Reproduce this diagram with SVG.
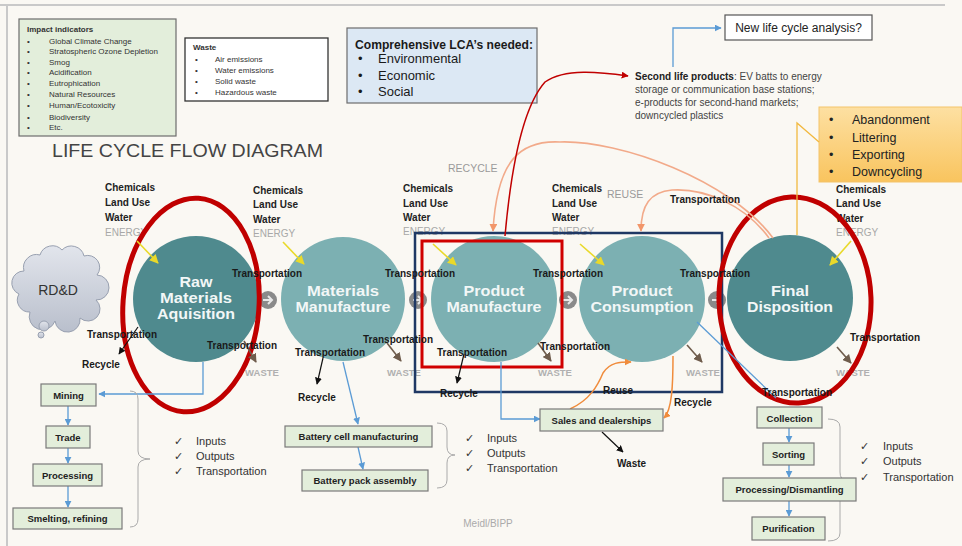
<svg xmlns="http://www.w3.org/2000/svg" width="962" height="546" viewBox="0 0 962 546">
<defs>
<style>
text{font-family:'Liberation Sans',Arial,sans-serif;}
.b{font-weight:bold;}
.t{font-size:10px;font-weight:bold;fill:#1a1a1a;}
.in{font-size:10px;font-weight:bold;fill:#222;}
.en{font-size:10px;fill:#a8a8a8;}
.ws{font-size:9.5px;font-weight:bold;fill:#b0b0b0;}
.ct{font-size:14px;font-weight:bold;fill:#f2f7f7;text-anchor:middle;}
.dk{fill:#4f8a8e;}
.lt{fill:#7cb0b2;}
.gb{fill:#e3eedb;stroke:#7a7a7a;stroke-width:1.2;}
.gt{font-size:9.5px;font-weight:bold;fill:#222;text-anchor:middle;}
.ck{font-size:11px;fill:#333;}
.sm{font-size:8px;fill:#333;}
.blue{fill:none;stroke:#5b9bd5;stroke-width:1.3;}
.blk{fill:none;stroke:#111;stroke-width:1.2;}
.brn{fill:none;stroke:#6f5c4c;stroke-width:1.6;}
.yel{fill:none;stroke:#e9d92a;stroke-width:1.6;}
.sal{fill:none;stroke:#f2aa8a;stroke-width:1.6;}
.org{fill:none;stroke:#f08c3c;stroke-width:1.5;}
.brk{fill:none;stroke:#aaaaaa;stroke-width:1;}
.gc{fill:#8a8a8a;}
</style>
<marker id="mBlue" viewBox="0 0 10 10" refX="9" refY="5" markerWidth="7" markerHeight="7" orient="auto" markerUnits="userSpaceOnUse"><path d="M0,0 L10,5 L0,10 z" fill="#5b9bd5"/></marker>
<marker id="mBlk" viewBox="0 0 10 10" refX="9" refY="5" markerWidth="7" markerHeight="7" orient="auto" markerUnits="userSpaceOnUse"><path d="M0,0 L10,5 L0,10 z" fill="#111"/></marker>
<marker id="mBrn" viewBox="0 0 10 10" refX="9" refY="5" markerWidth="9" markerHeight="9" orient="auto" markerUnits="userSpaceOnUse"><path d="M0,0 L10,5 L0,10 z" fill="#6f5c4c"/></marker>
<marker id="mYel" viewBox="0 0 10 10" refX="9" refY="5" markerWidth="9" markerHeight="9" orient="auto" markerUnits="userSpaceOnUse"><path d="M0,0 L10,5 L0,10 z" fill="#e9d92a"/></marker>
<marker id="mSal" viewBox="0 0 10 10" refX="9" refY="5" markerWidth="8" markerHeight="8" orient="auto" markerUnits="userSpaceOnUse"><path d="M0,0 L10,5 L0,10 z" fill="#f2966a"/></marker>
<marker id="mOrg" viewBox="0 0 10 10" refX="9" refY="5" markerWidth="7" markerHeight="7" orient="auto" markerUnits="userSpaceOnUse"><path d="M0,0 L10,5 L0,10 z" fill="#f08c3c"/></marker>
<marker id="mRed" viewBox="0 0 10 10" refX="9" refY="5" markerWidth="7" markerHeight="7" orient="auto" markerUnits="userSpaceOnUse"><path d="M0,0 L10,5 L0,10 z" fill="#c00000"/></marker>
<linearGradient id="gOr" x1="0" y1="0" x2="0" y2="1"><stop offset="0" stop-color="#fde0a2"/><stop offset="1" stop-color="#f9c45e"/></linearGradient>
<linearGradient id="gCl" x1="0" y1="0" x2="0" y2="1"><stop offset="0" stop-color="#e2e5ec"/><stop offset="1" stop-color="#b9bfcc"/></linearGradient>
</defs>
<rect x="0" y="0" width="962" height="546" fill="#faf8f3"/>
<line x1="0" y1="5" x2="945" y2="5" stroke="#c9c9c9" stroke-width="2"/>
<line x1="7" y1="5" x2="7" y2="546" stroke="#c9c9c9" stroke-width="2"/>

<g id="impact-indicators">
<rect x="19" y="19" width="157" height="117" fill="#e3eedb" stroke="#6d6d6d" stroke-width="1.2"/>
<text x="27" y="32" class="sm b">Impact indicators</text>
<g class="sm">
<text x="27" y="44">•</text><text x="49" y="44">Global Climate Change</text>
<text x="27" y="54">•</text><text x="49" y="54">Stratospheric Ozone Depletion</text>
<text x="27" y="64.5">•</text><text x="49" y="64.5">Smog</text>
<text x="27" y="75">•</text><text x="49" y="75">Acidification</text>
<text x="27" y="85.5">•</text><text x="49" y="85.5">Eutrophication</text>
<text x="27" y="97">•</text><text x="49" y="97">Natural Resources</text>
<text x="27" y="108">•</text><text x="49" y="108">Human/Ecotoxicity</text>
<text x="27" y="119.5">•</text><text x="49" y="119.5">Biodiversity</text>
<text x="27" y="130">•</text><text x="49" y="130">Etc.</text>
</g>
</g>

<g id="waste-box">
<rect x="185" y="38" width="143" height="63" fill="#ffffff" stroke="#333" stroke-width="1.3"/>
<text x="193" y="50" class="sm b">Waste</text>
<g class="sm">
<text x="195" y="62">•</text><text x="215" y="62">Air emissions</text>
<text x="195" y="73">•</text><text x="215" y="73">Water emissions</text>
<text x="195" y="84">•</text><text x="215" y="84">Solid waste</text>
<text x="195" y="94.5">•</text><text x="215" y="94.5">Hazardous waste</text>
</g>
</g>

<text id="title" x="52" y="157" font-size="19" fill="#444" textLength="271" lengthAdjust="spacingAndGlyphs">LIFE CYCLE FLOW DIAGRAM</text>

<g id="lca-box">
<rect x="347" y="28" width="190" height="75" fill="#dce8f4" stroke="#6d6d6d" stroke-width="1.2"/>
<text x="355" y="49" font-size="12.5" font-weight="bold" fill="#1a1a1a" textLength="178" lengthAdjust="spacingAndGlyphs">Comprehensive LCA’s needed:</text>
<g font-size="13" fill="#1a1a1a">
<text x="358" y="63">•</text><text x="378" y="63">Environmental</text>
<text x="358" y="80">•</text><text x="378" y="80">Economic</text>
<text x="358" y="96">•</text><text x="378" y="96">Social</text>
</g>
</g>

<g id="new-lca">
<rect x="725" y="15" width="147" height="25" fill="#ffffff" stroke="#555" stroke-width="1.2"/>
<text x="798.5" y="32" font-size="12" fill="#222" text-anchor="middle">New life cycle analysis?</text>
</g>

<g id="second-life" font-size="10" fill="#444">
<text x="635" y="80"><tspan font-weight="bold" fill="#222">Second life products</tspan>: EV batts to energy</text>
<text x="635" y="93">storage or communication base stations;</text>
<text x="635" y="106">e-products for second-hand markets;</text>
<text x="635" y="119">downcycled plastics</text>
</g>

<g id="end-of-life-box">
<rect x="819" y="107" width="143" height="75" fill="url(#gOr)" stroke="#f3c36a" stroke-width="1"/>
<g font-size="12.5" fill="#222">
<text x="829" y="124">•</text><text x="852" y="124">Abandonment</text>
<text x="829" y="142">•</text><text x="852" y="142">Littering</text>
<text x="829" y="159">•</text><text x="852" y="159">Exporting</text>
<text x="829" y="176">•</text><text x="852" y="176">Downcycling</text>
</g>
</g>

<g id="rdd">
<path d="M30,312 A12,12 0 0 1 19,294 A12,12 0 0 1 24,271 A13,13 0 0 1 40,255 A13,13 0 0 1 62,250 A13,13 0 0 1 84,256 A12,12 0 0 1 97,275 A12,12 0 0 1 96,300 A12,12 0 0 1 80,318 A12,12 0 0 1 55,321 A12,12 0 0 1 30,312 Z" fill="url(#gCl)" stroke="#98a0b0" stroke-width="1"/>
<circle cx="44" cy="326" r="5" fill="url(#gCl)" stroke="#98a0b0" stroke-width="1"/>
<circle cx="41" cy="335" r="3" fill="url(#gCl)" stroke="#98a0b0" stroke-width="1"/>
<text x="58" y="295" font-size="14" fill="#333" text-anchor="middle">RD&amp;D</text>
</g>

<g id="stage-raw">
<circle cx="196" cy="299" r="63" class="dk"/>
<text x="196" y="287" class="ct" textLength="33" lengthAdjust="spacingAndGlyphs">Raw</text>
<text x="196" y="303" class="ct" textLength="72" lengthAdjust="spacingAndGlyphs">Materials</text>
<text x="196" y="319" class="ct" textLength="78" lengthAdjust="spacingAndGlyphs">Aquisition</text>
</g>
<g id="stage-materials">
<circle cx="343" cy="299" r="62" class="lt"/>
<text x="343" y="296" class="ct" textLength="72" lengthAdjust="spacingAndGlyphs">Materials</text>
<text x="343" y="312" class="ct" textLength="95" lengthAdjust="spacingAndGlyphs">Manufacture</text>
</g>
<g id="stage-product">
<circle cx="494" cy="299" r="63" class="lt"/>
<text x="494" y="296" class="ct" textLength="61" lengthAdjust="spacingAndGlyphs">Product</text>
<text x="494" y="312" class="ct" textLength="95" lengthAdjust="spacingAndGlyphs">Manufacture</text>
</g>
<g id="stage-consumption">
<circle cx="642" cy="299" r="63" class="lt"/>
<text x="642" y="296" class="ct" textLength="61" lengthAdjust="spacingAndGlyphs">Product</text>
<text x="642" y="312" class="ct" textLength="103" lengthAdjust="spacingAndGlyphs">Consumption</text>
</g>
<g id="stage-final">
<circle cx="790" cy="298" r="63" class="dk"/>
<text x="790" y="296" class="ct" textLength="38" lengthAdjust="spacingAndGlyphs">Final</text>
<text x="790" y="312" class="ct" textLength="86" lengthAdjust="spacingAndGlyphs">Disposition</text>
</g>

<g id="step-arrows">
<g transform="translate(268,300)"><circle r="9" class="gc"/><path d="M-5,0 H4 M0,-4 L4,0 L0,4" fill="none" stroke="#e8e8e8" stroke-width="2"/></g>
<g transform="translate(418,300)"><circle r="9" class="gc"/><path d="M-5,0 H4 M0,-4 L4,0 L0,4" fill="none" stroke="#e8e8e8" stroke-width="2"/></g>
<g transform="translate(568,300)"><circle r="9" class="gc"/><path d="M-5,0 H4 M0,-4 L4,0 L0,4" fill="none" stroke="#e8e8e8" stroke-width="2"/></g>
<g transform="translate(717,300)"><circle r="9" class="gc"/><path d="M-5,0 H4 M0,-4 L4,0 L0,4" fill="none" stroke="#e8e8e8" stroke-width="2"/></g>
</g>

<g id="inputs-labels">
<text x="105" y="191" class="in">Chemicals</text><text x="105" y="206" class="in">Land Use</text><text x="105" y="221" class="in">Water</text><text x="105" y="236" class="en">ENERGY</text>
<text x="253" y="194" class="in">Chemicals</text><text x="253" y="208" class="in">Land Use</text><text x="253" y="223" class="in">Water</text><text x="253" y="237" class="en">ENERGY</text>
<text x="403" y="192" class="in">Chemicals</text><text x="403" y="207" class="in">Land Use</text><text x="403" y="221" class="in">Water</text><text x="403" y="235" class="en">ENERGY</text>
<text x="552" y="192" class="in">Chemicals</text><text x="552" y="207" class="in">Land Use</text><text x="552" y="221" class="in">Water</text><text x="552" y="235" class="en">ENERGY</text>
<text x="836" y="193" class="in">Chemicals</text><text x="836" y="207" class="in">Land Use</text><text x="836" y="222" class="in">Water</text><text x="836" y="236" class="en">ENERGY</text>
</g>

<g id="flow-labels">
<text x="448" y="172" font-size="10.5" fill="#9a9a9a">RECYCLE</text>
<text x="607" y="198" font-size="10.5" fill="#9a9a9a">REUSE</text>
<text x="262" y="376" class="ws" text-anchor="middle">WASTE</text>
<text x="404" y="376" class="ws" text-anchor="middle">WASTE</text>
<text x="555" y="376" class="ws" text-anchor="middle">WASTE</text>
<text x="703" y="376" class="ws" text-anchor="middle">WASTE</text>
<text x="853" y="376" class="ws" text-anchor="middle">WASTE</text>
</g>

<g id="outline-marks">
<rect x="415" y="233" width="307" height="159" fill="none" stroke="#1f3864" stroke-width="2.5"/>
<rect x="422" y="241" width="140" height="126" fill="none" stroke="#d00000" stroke-width="3"/>
<ellipse cx="191" cy="305" rx="68" ry="107" transform="rotate(4 191 305)" fill="none" stroke="#c00000" stroke-width="5"/>
<ellipse cx="795" cy="300" rx="76" ry="103" transform="rotate(-2 795 300)" fill="none" stroke="#c00000" stroke-width="5"/>
</g>

<g id="connectors">
<path class="yel" d="M137,241 L158,263" marker-end="url(#mYel)"/>
<path class="yel" d="M283,242 L304,264" marker-end="url(#mYel)"/>
<path class="yel" d="M433,244 L456,265" marker-end="url(#mYel)"/>
<path class="yel" d="M580,244 L604,265" marker-end="url(#mYel)"/>
<path class="yel" d="M851,241 L830,265" marker-end="url(#mYel)"/>
<path class="brn" d="M244,341 L256,362" marker-end="url(#mBrn)"/>
<path class="brn" d="M387,343 L401,361" marker-end="url(#mBrn)"/>
<path class="brn" d="M538,343 L551,361" marker-end="url(#mBrn)"/>
<path class="brn" d="M687,345 L702,362" marker-end="url(#mBrn)"/>
<path class="brn" d="M837,347 L851,363" marker-end="url(#mBrn)"/>
<path class="blk" d="M138,327 L119,354" marker-end="url(#mBlk)"/>
<path class="blk" d="M323,358 L317,384" marker-end="url(#mBlk)"/>
<path class="blk" d="M464,354 L457,383" marker-end="url(#mBlk)"/>
<path class="blk" d="M602,432 L623,452" marker-end="url(#mBlk)"/>
<path class="sal" d="M773,238 C730,180 620,140 560,142 C520,140 497,160 493,231" marker-end="url(#mSal)"/>
<path class="sal" d="M769,238 C745,205 705,188 672,190 C650,192 641,205 641,231" marker-end="url(#mSal)"/>
<path d="M505,236 C510,180 520,110 545,82 C565,68 600,72 628,76" fill="none" stroke="#c00000" stroke-width="1.5" marker-end="url(#mRed)"/>
<path d="M819,142 L797,123 L797,235" fill="none" stroke="#f2b940" stroke-width="1.3"/>
<path class="org" d="M570,409 C590,400 598,385 603,373 C610,362 620,362 631,362" marker-end="url(#mOrg)"/>
<path class="org" d="M673,356 C673,385 672,410 664,418" marker-end="url(#mOrg)"/>
<path class="blue" d="M673,67 L673,28 L721,28" marker-end="url(#mBlue)"/>
<path class="blue" d="M203,362 L203,394 L99,394" marker-end="url(#mBlue)"/>
<path class="blue" d="M343,362 L358,424" marker-end="url(#mBlue)"/>
<path class="blue" d="M358,447 L363,469" marker-end="url(#mBlue)"/>
<path class="blue" d="M501,362 L501,419 L540,419" marker-end="url(#mBlue)"/>
<path class="blue" d="M697,322 L776,398"/>
<path class="blue" d="M68,406 L68,425" marker-end="url(#mBlue)"/>
<path class="blue" d="M68,448 L68,463" marker-end="url(#mBlue)"/>
<path class="blue" d="M68,486 L68,507" marker-end="url(#mBlue)"/>
<path class="blue" d="M789,428 L789,442" marker-end="url(#mBlue)"/>
<path class="blue" d="M789,465 L789,477" marker-end="url(#mBlue)"/>
<path class="blue" d="M789,501 L789,516" marker-end="url(#mBlue)"/>
<path class="brk" d="M130,391 Q138,391 138,399 L138,451 Q138,459 150,459 Q138,459 138,467 L138,519 Q138,527 130,527"/>
<path class="brk" d="M437,423 Q447,423 447,431 L447,447 Q447,455 455,455 Q447,455 447,463 L447,480 Q447,488 437,488"/>
<path class="brk" d="M828,419 Q840,419 840,427 L840,472 Q840,480 846,480 Q840,480 840,488 L840,533 Q840,541 828,541"/>
</g>

<g id="transport-labels">
<text x="232" y="277" class="t">Transportation</text>
<text x="87" y="338" class="t">Transportation</text>
<text x="207" y="349" class="t">Transportation</text>
<text x="385" y="277" class="t">Transportation</text>
<text x="363" y="343" class="t">Transportation</text>
<text x="295" y="356" class="t">Transportation</text>
<text x="533" y="277" class="t">Transportation</text>
<text x="437" y="356" class="t">Transportation</text>
<text x="540" y="350" class="t">Transportation</text>
<text x="680" y="277" class="t">Transportation</text>
<text x="850" y="341" class="t">Transportation</text>
<text x="670" y="203" class="t">Transportation</text>
<text x="762" y="396" class="t">Transportation</text>
<text x="82" y="368" class="t">Recycle</text>
<text x="298" y="401" class="t">Recycle</text>
<text x="440" y="397" class="t">Recycle</text>
<text x="674" y="406" class="t">Recycle</text>
<text x="603" y="394" class="t">Reuse</text>
<text x="617" y="467" class="t">Waste</text>
</g>

<g id="box-mining"><rect x="41" y="384" width="55" height="22" class="gb"/><text x="68.5" y="398.5" class="gt">Mining</text></g>
<g id="box-trade"><rect x="46" y="426" width="44" height="22" class="gb"/><text x="68" y="440.5" class="gt">Trade</text></g>
<g id="box-processing"><rect x="33" y="464" width="69" height="22" class="gb"/><text x="67.5" y="478.5" class="gt">Processing</text></g>
<g id="box-smelting"><rect x="13" y="508" width="109" height="21" class="gb"/><text x="67.5" y="522" class="gt">Smelting, refining</text></g>
<g id="box-cell"><rect x="285" y="426" width="147" height="21" class="gb"/><text x="358.5" y="440" class="gt">Battery cell manufacturing</text></g>
<g id="box-pack"><rect x="302" y="470" width="126" height="21" class="gb"/><text x="365" y="484" class="gt">Battery pack assembly</text></g>
<g id="box-sales"><rect x="540" y="409" width="123" height="22" class="gb"/><text x="601.5" y="423.5" class="gt" font-size="10">Sales and dealerships</text></g>
<g id="box-collection"><rect x="757" y="407" width="65" height="21" class="gb"/><text x="789.5" y="421.5" class="gt">Collection</text></g>
<g id="box-sorting"><rect x="763" y="443" width="51" height="22" class="gb"/><text x="788.5" y="457.5" class="gt">Sorting</text></g>
<g id="box-dismantling"><rect x="723" y="478" width="133" height="23" class="gb"/><text x="789.5" y="493" class="gt">Processing/Dismantling</text></g>
<g id="box-purification"><rect x="752" y="517" width="73" height="23" class="gb"/><text x="788.5" y="532" class="gt">Purification</text></g>

<g id="checklists" class="ck">
<text x="174" y="445">✓</text><text x="196" y="445">Inputs</text>
<text x="174" y="460">✓</text><text x="196" y="460">Outputs</text>
<text x="174" y="475">✓</text><text x="196" y="475">Transportation</text>
<text x="465" y="442">✓</text><text x="487" y="442">Inputs</text>
<text x="465" y="457">✓</text><text x="487" y="457">Outputs</text>
<text x="465" y="472">✓</text><text x="487" y="472">Transportation</text>
<text x="860" y="450">✓</text><text x="883" y="450">Inputs</text>
<text x="860" y="465">✓</text><text x="883" y="465">Outputs</text>
<text x="860" y="481">✓</text><text x="883" y="481">Transportation</text>
</g>

<text id="credit" x="488" y="527" font-size="10" fill="#aaa" text-anchor="middle">Meidl/BIPP</text>
</svg>
